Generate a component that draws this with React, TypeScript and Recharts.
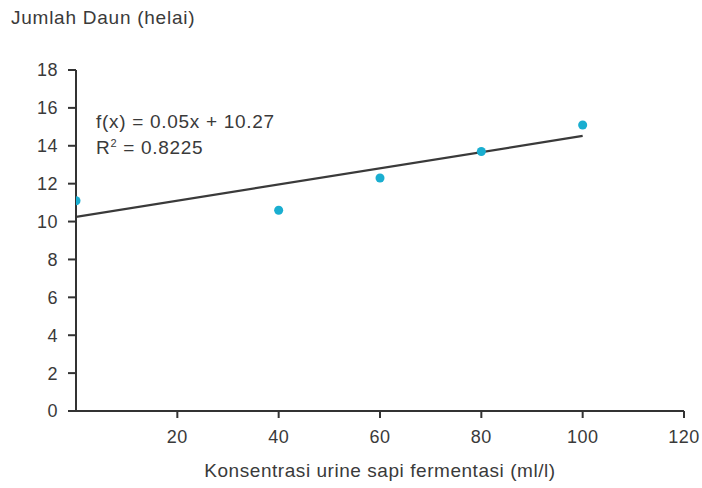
import React from "react";
import { ComposedChart, XAxis, YAxis, Scatter, Line, Label } from "recharts";

const concentrations = [0, 40, 60, 80, 100];
const leafCounts = [11.1, 10.6, 12.3, 13.7, 15.1];
const trendX = [0, 100];
const trendY = [10.25, 14.52];
const xTicks = [20, 40, 60, 80, 100, 120];
const yTicks = [0, 2, 4, 6, 8, 10, 12, 14, 16, 18];

const points = concentrations.map((x, i) => ({ x, y: leafCounts[i] }));
const trend = trendX.map((x, i) => ({ x, t: trendY[i] }));

const FONT = "'Liberation Sans', Arial, sans-serif";
const AXIS = "#333333";
const TXT = "#3a3a3a";

export default function App() {
  return (
    <div style={{ position: "absolute", left: 0, top: 0, width: 702, height: 488, background: "#fff", fontFamily: FONT }}>
      <ComposedChart width={702} height={488} margin={{ top: 70, right: 18, bottom: 0, left: 0 }}>
        <XAxis
          type="number"
          dataKey="x"
          domain={[0, 120]}
          ticks={xTicks}
          height={77}
          tickSize={7}
          tickMargin={12}
          axisLine={{ stroke: AXIS, strokeWidth: 2 }}
          tickLine={{ stroke: AXIS, strokeWidth: 2 }}
          tick={{ fill: TXT, fontSize: 18, fontFamily: FONT, letterSpacing: 0.5 }}
          allowDataOverflow
        >
          <Label value="Konsentrasi urine sapi fermentasi (ml/l)" position="insideBottom" offset={11} style={{ fill: TXT, fontSize: 19, fontFamily: FONT, letterSpacing: 0.55 }} />
        </XAxis>
        <YAxis
          type="number"
          domain={[0, 18]}
          ticks={yTicks}
          width={76}
          tickSize={8}
          tickMargin={10}
          axisLine={{ stroke: AXIS, strokeWidth: 2 }}
          tickLine={{ stroke: AXIS, strokeWidth: 2 }}
          tick={{ fill: TXT, fontSize: 18, fontFamily: FONT, letterSpacing: 0.5 }}
          allowDataOverflow
        />
        <Line data={trend} dataKey="t" type="linear" stroke="#3a3a3a" strokeWidth={2.2} dot={false} activeDot={false} isAnimationActive={false} />
        <Scatter data={points} dataKey="y" fill="#1aaed0" shape="circle" isAnimationActive={false} />
      </ComposedChart>
      <div style={{ position: "absolute", left: 11, top: 7, fontSize: 19, letterSpacing: 0.75, color: TXT, whiteSpace: "nowrap" }}>Jumlah Daun (helai)</div>
      <div style={{ position: "absolute", left: 96, top: 109, fontSize: 19, letterSpacing: 0.7, color: TXT, lineHeight: "26px", whiteSpace: "nowrap" }}>
        <div>f(x) = 0.05x + 10.27</div>
        <div>R<sup style={{ fontSize: 11, verticalAlign: "7px", lineHeight: 0 }}>2</sup> = 0.8225</div>
      </div>
    </div>
  );
}
